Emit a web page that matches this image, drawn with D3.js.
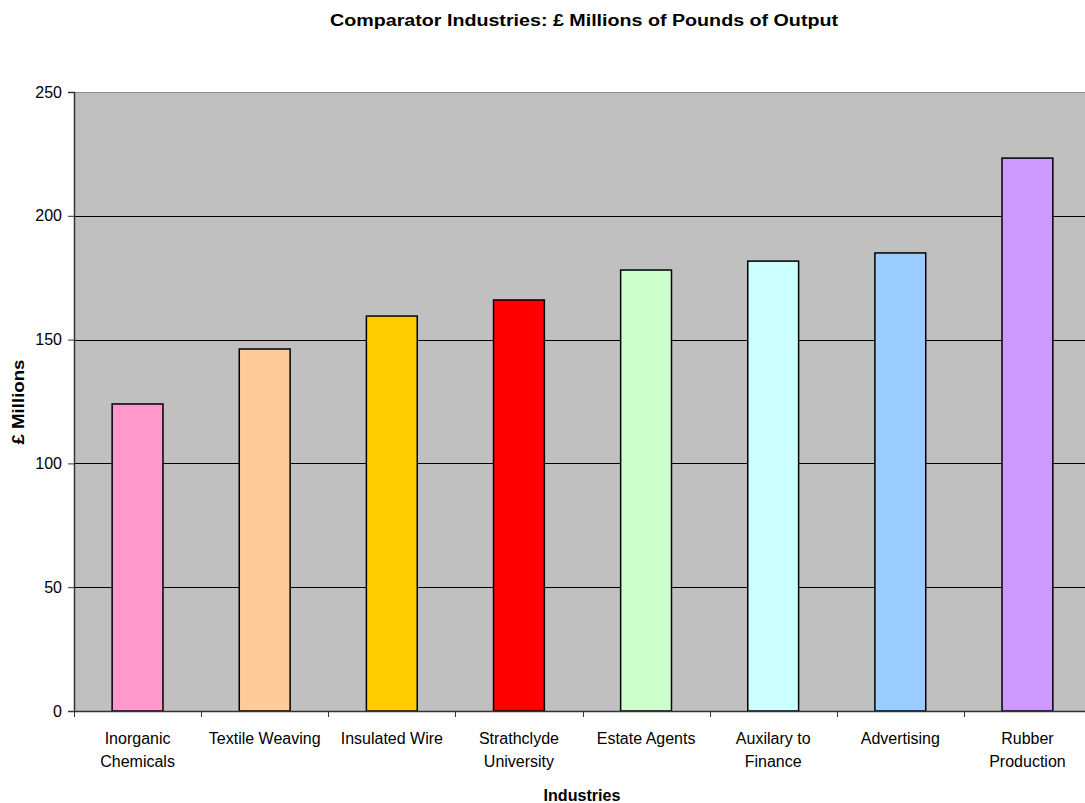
<!DOCTYPE html>
<html>
<head>
<meta charset="utf-8">
<script src="https://cdn.jsdelivr.net/npm/d3@7"></script>
<style>
  body { margin: 0; background: #fff; }
  svg { display: block; font-family: "Liberation Sans", Arial, sans-serif; }
</style>
</head>
<body>
<svg id="chart" width="1085" height="803"></svg>
<script>
// Output by industry, £ millions
const categories = [
  ["Inorganic", "Chemicals"],
  ["Textile Weaving"],
  ["Insulated Wire"],
  ["Strathclyde", "University"],
  ["Estate Agents"],
  ["Auxilary to", "Finance"],
  ["Advertising"],
  ["Rubber", "Production"]
];
const values = [124, 146.2, 159.5, 166, 178.1, 181.7, 185, 223.3];
const barColors = ["#ff99cc", "#ffcc99", "#ffcc00", "#ff0000", "#ccffcc", "#ccffff", "#99ccff", "#cc99ff"];
const yTicks = [0, 50, 100, 150, 200, 250];

const svg = d3.select("#chart");
const plot = { left: 74, right: 1091, top: 92, bottom: 711 };

const x = d3.scaleBand()
  .domain(d3.range(categories.length))
  .range([plot.left, plot.right])
  .paddingInner(0.6)
  .paddingOuter(0.3);

const y = d3.scaleLinear().domain([0, 250]).range([plot.bottom, plot.top]);

// Plot background
svg.append("rect")
  .attr("x", plot.left).attr("y", plot.top)
  .attr("width", plot.right - plot.left).attr("height", plot.bottom - plot.top)
  .attr("fill", "#c0c0c0");

// Top border
svg.append("line")
  .attr("x1", plot.left).attr("x2", plot.right)
  .attr("y1", plot.top + 0.5).attr("y2", plot.top + 0.5)
  .attr("stroke", "#8c8c8c").attr("stroke-width", 1.2);

// Gridlines
svg.append("g")
  .selectAll("line")
  .data(yTicks.filter(t => t > 0 && t < 250))
  .join("line")
  .attr("x1", plot.left).attr("x2", plot.right)
  .attr("y1", d => Math.round(y(d)) + 0.5).attr("y2", d => Math.round(y(d)) + 0.5)
  .attr("stroke", "#000").attr("stroke-width", 1);

// Bars
svg.append("g")
  .selectAll("rect")
  .data(values)
  .join("rect")
  .attr("x", (d, i) => x(i))
  .attr("y", d => y(d))
  .attr("width", x.bandwidth())
  .attr("height", d => y(0) - y(d))
  .attr("fill", (d, i) => barColors[i])
  .attr("stroke", "#000")
  .attr("stroke-width", 1.5);

// Y axis
const yAxis = svg.append("g")
  .attr("transform", `translate(${plot.left},0)`)
  .call(d3.axisLeft(y).tickValues(yTicks).tickSize(6).tickPadding(6).tickFormat(d3.format("d")));
yAxis.select(".domain").attr("stroke", "#333").attr("stroke-width", 1.5);
yAxis.selectAll(".tick line").attr("stroke", "#333");
yAxis.selectAll(".tick text")
  .attr("font-size", 16).attr("fill", "#000")
  .attr("font-family", "Liberation Sans, Arial, sans-serif");

// X axis with boundary ticks between categories
const xAxisG = svg.append("g");
xAxisG.append("line")
  .attr("x1", plot.left).attr("x2", plot.right)
  .attr("y1", plot.bottom + 0.5).attr("y2", plot.bottom + 0.5)
  .attr("stroke", "#333").attr("stroke-width", 1.5);
const boundaries = d3.range(categories.length + 1).map(i => plot.left + i * (plot.right - plot.left) / categories.length);
xAxisG.selectAll(".bt")
  .data(boundaries)
  .join("line")
  .attr("x1", d => Math.round(d) + 0.5).attr("x2", d => Math.round(d) + 0.5)
  .attr("y1", plot.bottom).attr("y2", plot.bottom + 6)
  .attr("stroke", "#333");

// Category labels
const labels = xAxisG.selectAll(".lab")
  .data(categories)
  .join("text")
  .attr("text-anchor", "middle")
  .attr("font-size", 16)
  .attr("fill", "#000")
  .attr("transform", (d, i) => `translate(${x(i) + x.bandwidth() / 2},${plot.bottom + 33})`);
labels.selectAll("tspan")
  .data(d => d)
  .join("tspan")
  .attr("x", 0)
  .attr("dy", (d, j) => j === 0 ? 0 : 23)
  .text(d => d);

// Title
svg.append("text")
  .attr("x", 584).attr("y", 26)
  .attr("text-anchor", "middle")
  .attr("font-size", 16).attr("font-weight", "bold")
  .attr("textLength", 508).attr("lengthAdjust", "spacingAndGlyphs")
  .text("Comparator Industries: £ Millions of Pounds of Output");

// Axis titles
svg.append("text")
  .attr("x", 582).attr("y", 801)
  .attr("text-anchor", "middle")
  .attr("font-size", 16).attr("font-weight", "bold")
  .attr("textLength", 77).attr("lengthAdjust", "spacingAndGlyphs")
  .text("Industries");

svg.append("text")
  .attr("transform", `translate(24,402) rotate(-90)`)
  .attr("text-anchor", "middle")
  .attr("font-size", 16).attr("font-weight", "bold")
  .attr("textLength", 85).attr("lengthAdjust", "spacingAndGlyphs")
  .text("£ Millions");
</script>
</body>
</html>
